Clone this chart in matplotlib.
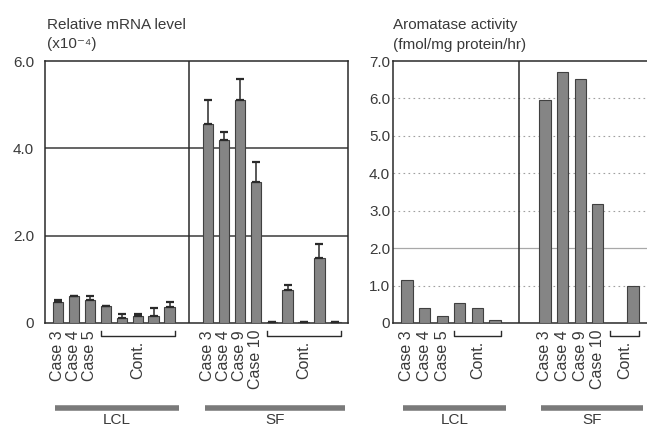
import numpy as np
import matplotlib
matplotlib.use("Agg")
import matplotlib.pyplot as plt
import matplotlib.transforms as mtransforms

plt.rcParams['font.family'] = ['Liberation Sans', 'DejaVu Sans']
TXT = '#3a3a3a'

# left panel: relative mRNA level (x10^-4)
mrna_lcl = [0.47, 0.61, 0.52, 0.38, 0.12, 0.15, 0.17, 0.37]
mrna_lcl_err = [0.05, 0.01, 0.09, 0.02, 0.09, 0.06, 0.17, 0.12]
mrna_sf = [4.56, 4.19, 5.10, 3.22, 0.03, 0.75, 0.03, 1.50, 0.03]
mrna_sf_err = [0.54, 0.19, 0.49, 0.47, 0.0, 0.11, 0.0, 0.30, 0.0]

# right panel: aromatase activity (fmol/mg protein/hr)
arom_lcl = [1.14, 0.40, 0.18, 0.53, 0.39, 0.09]
arom_sf = [5.95, 6.70, 6.52, 3.19, 0.0, 0.98]

lcl_cases = ['Case 3', 'Case 4', 'Case 5']
sf_cases = ['Case 3', 'Case 4', 'Case 9', 'Case 10']

BAR = '#858585'
EDGE = '#404040'


def draw_panel(ax, lcl, sf, sf_start, xlim, divider, lcl_err=None, sf_err=None):
    x_lcl = np.arange(len(lcl))
    x_sf = np.arange(len(sf)) + sf_start
    ax.bar(x_lcl, lcl, width=0.64, color=BAR, edgecolor=EDGE, linewidth=0.8, zorder=3)
    ax.bar(x_sf, sf, width=0.64, color=BAR, edgecolor=EDGE, linewidth=0.8, zorder=3)
    if lcl_err is not None:
        for xs, vals, errs in [(x_lcl, lcl, lcl_err), (x_sf, sf, sf_err)]:
            ax.errorbar(xs, vals, yerr=[np.zeros(len(errs)), errs], fmt='none',
                        ecolor='#2a2a2a', elinewidth=1.1, capsize=3, capthick=1.6, zorder=4)
    ax.set_xlim(*xlim)
    ax.axvline(divider, color='#2a2a2a', lw=1.1, zorder=2)

    # case labels under bars
    nl = len(lcl_cases)
    ns = len(sf_cases)
    ax.set_xticks(list(x_lcl[:nl]) + list(x_sf[:ns]))
    ax.set_xticklabels(lcl_cases + sf_cases, rotation=90, va='top', fontsize=11.5, color=TXT)
    ax.tick_params(axis='x', length=0, pad=5)

    trans = mtransforms.blended_transform_factory(ax.transData, ax.transAxes)
    # "Cont." brackets
    for xs in [x_lcl[nl:], x_sf[ns:]]:
        a, b = xs[0] - 0.3, xs[-1] + 0.35
        ax.plot([a, a, b, b], [-0.031, -0.05, -0.05, -0.031], color='#2a2a2a', lw=1.0,
                transform=trans, clip_on=False)
        ax.text((a + b) / 2, -0.066, 'Cont.', rotation=90, ha='center', va='top',
                fontsize=11.5, color=TXT, transform=trans)
    # group bars LCL / SF
    for xs, name in [(x_lcl, 'LCL'), (x_sf, 'SF')]:
        a, b = xs[0] - 0.2, xs[-1] + 0.6
        ax.plot([a, b], [-0.325, -0.325], color='#7a7a7a', lw=4, solid_capstyle='butt',
                transform=trans, clip_on=False)
        ax.text((a + b) / 2, -0.342, name, ha='center', va='top', fontsize=11,
                color=TXT, transform=trans)

    for s in ['left', 'top', 'bottom']:
        ax.spines[s].set_color('#2a2a2a')
        ax.spines[s].set_linewidth(1.1)
    ax.tick_params(axis='y', length=0, labelsize=11, labelcolor=TXT)


fig = plt.figure(figsize=(6.47, 4.29), dpi=100)
ax1 = fig.add_axes([45 / 647, 106 / 429, 303 / 647, 262 / 429])
ax2 = fig.add_axes([393 / 647, 106 / 429, 254 / 647, 262 / 429])

draw_panel(ax1, mrna_lcl, mrna_sf, 9.4, (-0.81, 18.19), 8.19, mrna_lcl_err, mrna_sf_err)
ax1.set_ylim(0, 6)
ax1.set_yticks([0, 2, 4, 6])
ax1.set_yticklabels(['0', '2.0', '4.0', '6.0'])
ax1.tick_params(axis='y', pad=8)
for v in [2, 4]:
    ax1.axhline(v, color='#3a3a3a', lw=1.1, zorder=1)
ax1.spines['right'].set_color('#2a2a2a')
ax1.spines['right'].set_linewidth(1.1)

draw_panel(ax2, arom_lcl, arom_sf, 7.84, (-0.795, 13.64), 6.36)
ax2.set_ylim(0, 7)
ax2.set_yticks(np.arange(8))
ax2.set_yticklabels(['0'] + [f'{v:.1f}' for v in range(1, 8)])
ax2.tick_params(axis='y', pad=2)
for v in [1, 3, 4, 5, 6]:
    ax2.axhline(v, color='#a0a0a0', lw=0.8, ls=(0, (1.5, 3)), zorder=1)
ax2.axhline(2, color='#a8a8a8', lw=0.9, zorder=1)
ax2.spines['right'].set_visible(False)

fig.text(47 / 647, 1 - 25 / 429, 'Relative mRNA level', fontsize=11, color=TXT, va='center')
fig.text(47 / 647, 1 - 44 / 429, '(x10\u207b\u2074)', fontsize=11, color=TXT, va='center')
fig.text(393 / 647, 1 - 25 / 429, 'Aromatase activity', fontsize=11, color=TXT, va='center')
fig.text(393 / 647, 1 - 45 / 429, '(fmol/mg protein/hr)', fontsize=11, color=TXT, va='center')

fig.savefig('out.png', dpi=100)
